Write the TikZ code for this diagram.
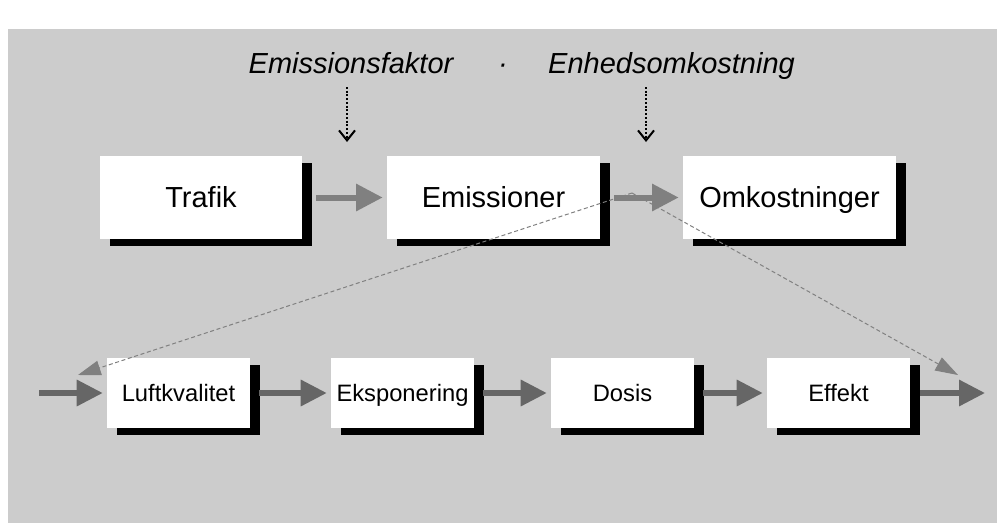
\documentclass[tikz,border=0pt]{standalone}
\usepackage{fontspec}
\setmainfont{Liberation Sans}
\usetikzlibrary{arrows.meta,shadows}
\definecolor{bg}{HTML}{CCCCCC}
\definecolor{midgray}{HTML}{808080}
\definecolor{darkgray}{HTML}{666666}

\begin{document}
\begin{tikzpicture}[x=0.75pt,y=-0.75pt,
  topbox/.style={fill=white,inner sep=0pt,minimum width=159.75pt,minimum height=62.25pt,
     font=\fontsize{21.75}{24}\selectfont,text height=15.6pt,text depth=0pt,
     drop shadow={shadow xshift=7.5pt,shadow yshift=-5.5pt,fill=black,opacity=1}},
  botbox/.style={topbox,minimum width=107.25pt,minimum height=52.5pt,
     font=\fontsize{17.8}{20}\selectfont,text height=12.7pt},
  lbl/.style={anchor=base,inner sep=0pt,font=\fontsize{21.75}{24}\selectfont\itshape},
  toparr/.style={-{Triangle[length=20pt,width=19.5pt]},line width=4.5pt,draw=midgray,
     shorten <=10.5pt,shorten >=3pt},
  botarr/.style={-{Triangle[length=19.5pt,width=19pt]},line width=4pt,draw=darkgray,
     shorten <=6.5pt,shorten >=3pt},
  dotarr/.style={-{Straight Barb[length=7.5pt,width=12pt]},line width=1.5pt,
     dash pattern=on 1.5pt off 1.3pt},
  backarr/.style={-{Triangle[length=17pt,width=11pt]},line width=0.75pt,draw=midgray,
     dash pattern=on 3pt off 2pt}]
\useasboundingbox (0,0) rectangle (999,525);
\fill[bg] (8,29) rectangle (997,523);
% factors above the chain
\node[lbl] (fak) at (351,73) {Emissionsfaktor};
\node[lbl] (mul) at (503,73) {·};
\node[lbl] (enh) at (671.5,73) {Enhedsomkostning};
\coordinate (f1) at (347,87); \coordinate (f2) at (347,142);
\coordinate (e1) at (646,87); \coordinate (e2) at (646,142);
% upper chain
\node[topbox,minimum width=151.5pt] (traf) at (201,197.5) {Trafik};
\node[topbox] (emis) at (493.5,197.5) {Emissioner};
\node[topbox] (omk) at (789.5,197.5) {Omkostninger};
% lower chain
\node[botbox] (luft) at (178.5,393) {Luftkvalitet};
\node[botbox] (eksp) at (402.5,393) {Eksponering};
\node[botbox] (dosis) at (622.5,393) {Dosis};
\node[botbox] (eff) at (838.5,393) {Effekt};
\coordinate (in) at (39,393); \coordinate (out) at (985,393);
\coordinate (peak) at (632,193);
\coordinate (tipL) at (78,375); \coordinate (tipR) at (958,375);
\draw[dotarr] (f1)--(f2); \draw[dotarr] (e1)--(e2);
\draw[toparr] (traf)--(emis); \draw[toparr] (emis)--(omk);
\draw[botarr,shorten <=0pt] (in)--(luft);
\draw[botarr] (luft)--(eksp); \draw[botarr] (eksp)--(dosis);
\draw[botarr] (dosis)--(eff);
\draw[botarr,shorten >=0pt,shorten <=7.5pt] (eff)--(out);
\draw[backarr] (peak)--(tipL); \draw[backarr] (peak)--(tipR);
\end{tikzpicture}
\end{document}
